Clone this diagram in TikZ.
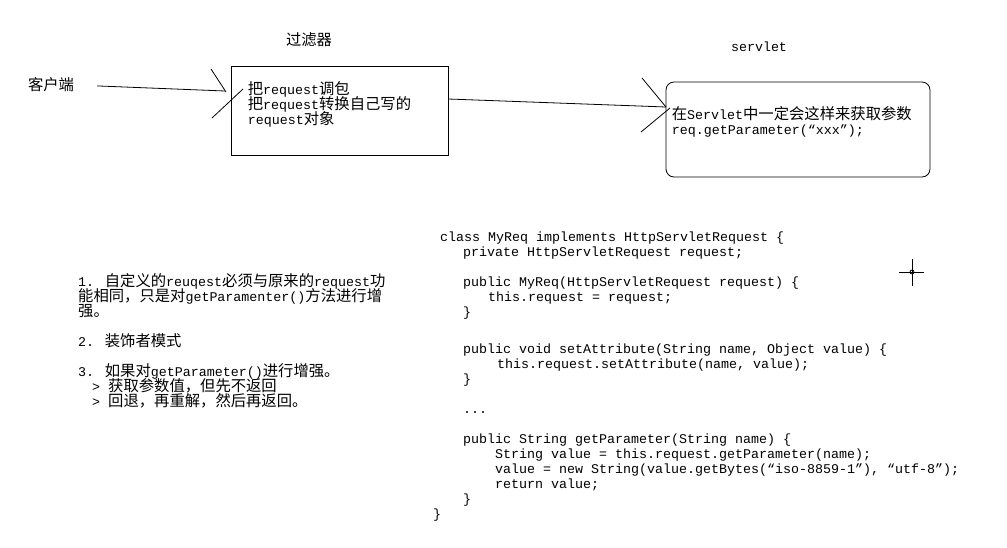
\documentclass[tikz,border=0pt]{standalone}
\usepackage{fontspec}
\setmainfont{Liberation Mono}
\newfontfamily\cjk[Scale=1.15]{Noto Sans CJK SC}
\newcommand{\zh}[1]{{\cjk #1}}
\usetikzlibrary{positioning}

\tikzset{
  txt/.style={font={\fontsize{13.33}{15}\selectfont\lineskiplimit=-10pt},
    inner sep=0pt, align=left},
  box/.style={draw, line width=0.8pt, inner sep=0pt},
  wire/.style={line width=0.8pt},
}

\begin{document}
\begin{tikzpicture}[x=1pt,y=-1pt]
    \useasboundingbox (0,0) rectangle (1007,547);

    % Titles
    \node[txt] (filtertitle) at (309,40) {\zh{过滤器}};
    \node[txt] (servlettitle) at (759,47) {servlet};
    \node[txt] (client) at (51,85) {\zh{客户端}};

    % Filter box
    \node[box, minimum width=217pt, minimum height=89pt] (filter) at (339.5,110.5) {};
    \node[txt, below right=16pt and 17pt of filter.north west] (filtertext)
      {\zh{把}request\zh{调包}\\
       \zh{把}request\zh{转换自己写的}\\
       request\zh{对象}};

    % Servlet box
    \node[box, rounded corners=8pt, minimum width=264pt, minimum height=95pt] (servlet) at (798,129.5) {};
    \node[txt, below right=25pt and 6pt of servlet.north west] (servlettext)
      {\zh{在}Servlet\zh{中一定会这样来获取参数}\\
       req.getParameter(“xxx”);};

    % Client -> filter
    \coordinate (tipA) at (225,91);
    \draw[wire, shorten <=23pt] (client.east) -- (tipA);
    \draw[wire] (211,69) -- (226,92);
    \draw[wire] (212,118) -- (243,89);

    % Filter -> servlet
    \coordinate (tipB) at (666,107);
    \draw[wire] ([yshift=11.5pt]filter.east) -- (tipB);
    \draw[wire] (642,78) -- (666,107);
    \draw[wire] (641,132) -- (670,108);

    % Notes
    \node[txt, anchor=north west] (notes) at (78,273.5)
      {1. \zh{自定义的}reuqest\zh{必须与原来的}request\zh{功}\\
       \zh{能相同，只是对}getParamenter()\zh{方法进行增}\\
       \zh{强。}\\[15pt]
       2. \zh{装饰者模式}\\[15pt]
       3. \zh{如果对}getParameter()\zh{进行增强。}\\
       \hspace*{14pt}> \zh{获取参数值，但先不返回}\\
       \hspace*{14pt}> \zh{回退，再重解，然后再返回。}};

    % Code
    \node[txt, anchor=north west] (codehead) at (440,232)
      {class MyReq implements HttpServletRequest \{\\
       \hspace*{23pt}private HttpServletRequest request;\\[15pt]
       \hspace*{23pt}public MyReq(HttpServletRequest request) \{\\
       \hspace*{48pt}this.request = request;\\
       \hspace*{23pt}\}};
    \node[txt, anchor=north west] (codebody) at (433,343.5)
      {\hspace*{30pt}public void setAttribute(String name, Object value) \{\\
       \hspace*{64pt}this.request.setAttribute(name, value);\\
       \hspace*{30pt}\}\\[15pt]
       \hspace*{30pt}...\\[15pt]
       \hspace*{30pt}public String getParameter(String name) \{\\
       \hspace*{62pt}String value = this.request.getParameter(name);\\
       \hspace*{62pt}value = new String(value.getBytes(“iso-8859-1”), “utf-8”);\\
       \hspace*{62pt}return value;\\
       \hspace*{30pt}\}\\
       \}};

    % Cursor mark
    \draw[wire] (899,272) -- (924,272) (912,259) -- (912,286);
    \draw[wire] (912,272) circle (2pt);
\end{tikzpicture}
\end{document}
